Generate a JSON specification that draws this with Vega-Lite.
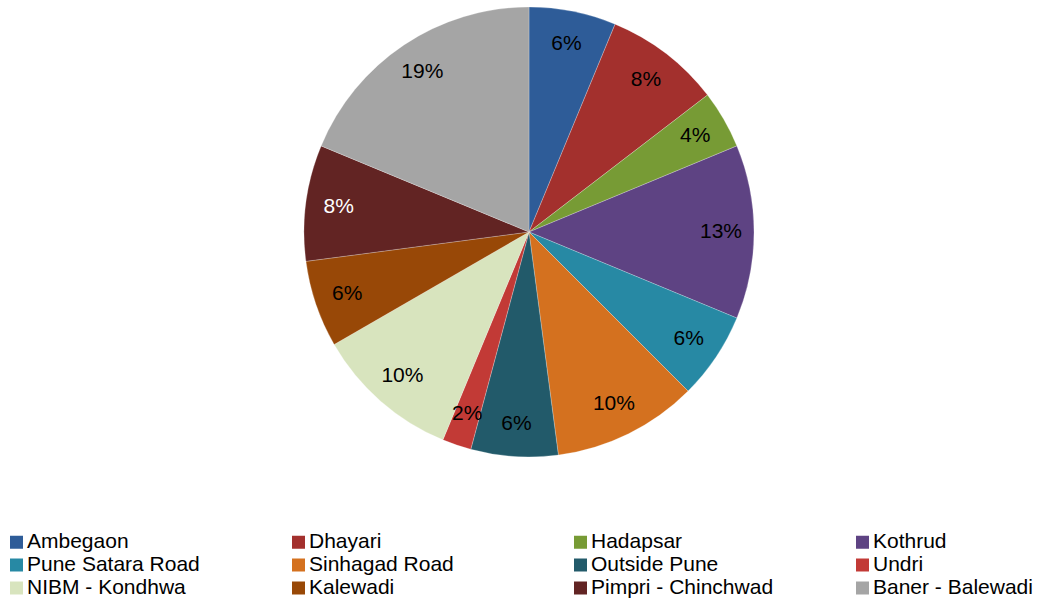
{
  "$schema": "https://vega.github.io/schema/vega-lite/v6.json",
  "width": 1024,
  "height": 464,
  "autosize": {"type": "none"},
  "padding": {"left": 17, "top": 0, "right": 0, "bottom": 134},
  "background": "#ffffff",
  "config": {"view": {"stroke": null}},
  "data": {
    "values": [
      {"name": "Ambegaon", "count": 3, "order": 1},
      {"name": "Dhayari", "count": 4, "order": 2},
      {"name": "Hadapsar", "count": 2, "order": 3},
      {"name": "Kothrud", "count": 6, "order": 4},
      {"name": "Pune Satara Road", "count": 3, "order": 5},
      {"name": "Sinhagad Road", "count": 5, "order": 6},
      {"name": "Outside Pune", "count": 3, "order": 7},
      {"name": "Undri", "count": 1, "order": 8},
      {"name": "NIBM - Kondhwa", "count": 5, "order": 9},
      {"name": "Kalewadi", "count": 3, "order": 10},
      {"name": "Pimpri - Chinchwad", "count": 4, "order": 11},
      {"name": "Baner - Balewadi", "count": 9, "order": 12}
    ]
  },
  "transform": [
    {"joinaggregate": [{"op": "sum", "field": "count", "as": "total"}]}
  ],
  "encoding": {
    "theta": {"field": "count", "type": "quantitative", "stack": true},
    "order": {"field": "order", "type": "quantitative"}
  },
  "layer": [
    {
      "mark": {"type": "arc", "radius": 225, "stroke": "#ffffff", "strokeWidth": 0.4, "strokeOpacity": 0.6},
      "encoding": {
        "color": {
          "field": "name",
          "type": "nominal",
          "sort": null,
          "scale": {
            "domain": ["Ambegaon", "Dhayari", "Hadapsar", "Kothrud", "Pune Satara Road", "Sinhagad Road", "Outside Pune", "Undri", "NIBM - Kondhwa", "Kalewadi", "Pimpri - Chinchwad", "Baner - Balewadi"],
            "range": ["#2E5C98", "#A3302D", "#779B35", "#5E4383", "#2789A4", "#D4711F", "#225A6A", "#C23A36", "#D8E4BE", "#984807", "#622423", "#A5A5A5"]
          },
          "legend": {
            "orient": "none",
            "legendX": -11,
            "legendY": 531.5,
            "direction": "horizontal",
            "columns": 4,
            "gridAlign": "all",
            "columnPadding": 78,
            "rowPadding": 1,
            "padding": 0,
            "title": null,
            "symbolType": "square",
            "symbolSize": 169,
            "symbolStrokeWidth": 0,
            "symbolOpacity": 1,
            "labelOffset": 0,
            "labelFont": "Liberation Sans",
            "labelFontSize": 21,
            "labelColor": "#000000",
            "labelLimit": 400
          }
        }
      }
    },
    {
      "mark": {"type": "text", "radius": 192, "font": "Liberation Sans", "fontSize": 21, "align": "center", "baseline": "middle"},
      "encoding": {
        "text": {"field": "pct", "type": "nominal"},
        "color": {
          "condition": {"test": "datum.name === 'Pimpri - Chinchwad'", "value": "#ffffff"},
          "value": "#000000"
        }
      },
      "transform": [
        {"calculate": "format(datum.count / datum.total, '.0%')", "as": "pct"}
      ]
    }
  ]
}
